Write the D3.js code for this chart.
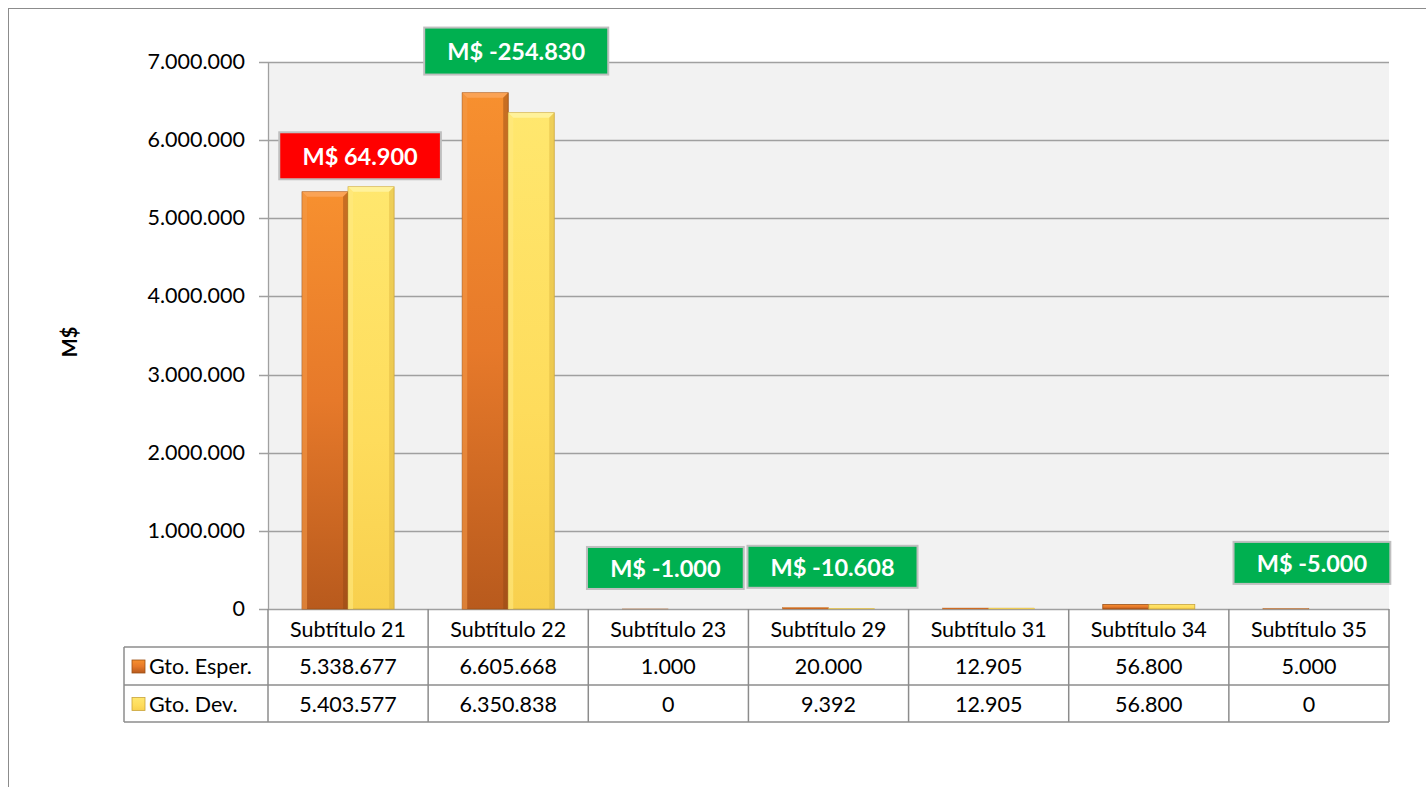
<!DOCTYPE html>
<html><head><meta charset="utf-8">
<script src="https://cdn.jsdelivr.net/npm/d3@7"></script>
<style>body{margin:0;background:#fff}svg{display:block}text{font-family:Lato,"Open Sans",sans-serif}</style>
</head><body>
<svg id="c" width="1426" height="787"></svg>
<script>
const categories = ["Subtítulo 21","Subtítulo 22","Subtítulo 23","Subtítulo 29","Subtítulo 31","Subtítulo 34","Subtítulo 35"];
const esperado = [5338677, 6605668, 1000, 20000, 12905, 56800, 5000];
const devengado = [5403577, 6350838, 0, 9392, 12905, 56800, 0];
const seriesNames = ["Gto. Esper.", "Gto. Dev."];
const yTicks = [0,1000000,2000000,3000000,4000000,5000000,6000000,7000000];
const labelCats = ["Subtítulo 21","Subtítulo 22","Subtítulo 23","Subtítulo 29","Subtítulo 35"];
const labelTexts = ["M$ 64.900","M$ -254.830","M$ -1.000","M$ -10.608","M$ -5.000"];
const labelValues = [5800000, 7140000, 525000, 540000, 590000];
const labelColors = ["#ff0000","#00b050","#00b050","#00b050","#00b050"];

const svg = d3.select("#c");
const fmt = v => d3.format(",")(v).replace(/,/g,".");
const L=268, R=1389, T=62, B=609;
const FS = 21.5;
const labelDx = [12, 8, -3, 4, 3]; // layout nudges of annotation boxes
const x = d3.scaleBand().domain(categories).range([L,R]);
const y = d3.scaleLinear().domain([0,7000000]).range([B,T]);
const xs = d3.scaleBand().domain([0,1]).range([0, 92]);

const defs = svg.append("defs");
function grad(id, stops){
  const g = defs.append("linearGradient").attr("id",id).attr("x1",0).attr("y1",0).attr("x2",0).attr("y2",1);
  stops.forEach(s=>g.append("stop").attr("offset",s[0]).attr("stop-color",s[1]));
}
grad("gO",[[0,"#f7902f"],[0.5,"#e6792a"],[1,"#b85a1d"]]);
grad("gY",[[0,"#ffe76e"],[0.6,"#fedc5c"],[1,"#f8d04e"]]);
const fills = ["url(#gO)","url(#gY)"];
const strokes = ["#9c5016","#c9a43a"];

svg.append("rect").attr("x",8.5).attr("y",8.5).attr("width",1440).attr("height",800)
  .attr("fill","none").attr("stroke","#8c8c8c").attr("stroke-width",1);

svg.append("rect").attr("x",L).attr("y",T).attr("width",R-L).attr("height",B-T).attr("fill","#f2f2f2");

svg.append("g").selectAll("line").data(yTicks).join("line")
  .attr("x1",L-9).attr("x2",R).attr("y1",d=>Math.round(y(d))+0.5).attr("y2",d=>Math.round(y(d))+0.5)
  .attr("stroke","#a0a0a0").attr("stroke-width",1.3);
svg.append("line").attr("x1",L+0.5).attr("x2",L+0.5).attr("y1",T).attr("y2",B).attr("stroke","#a0a0a0").attr("stroke-width",1.3);

svg.append("g").selectAll("text").data(yTicks).join("text")
  .attr("x",245).attr("y",d=>y(d)+7).attr("text-anchor","end")
  .attr("font-size",FS).attr("fill","#000").text(d=>fmt(d));

svg.append("text").attr("transform","translate(77,342) rotate(-90)").attr("text-anchor","middle")
  .attr("font-size",20).attr("font-weight","bold").text("M$");

const series = [esperado, devengado];
series.forEach((vals,si)=>{
  const g = svg.append("g");
  vals.forEach((v,i)=>{
    if(v<=0) return;
    const bx = x(categories[i]) + (x.bandwidth()-92)/2 + xs(si);
    const bw = xs.bandwidth();
    const by = y(v), bh = B - by;
    g.append("rect").attr("x",bx).attr("y",by).attr("width",bw).attr("height",bh)
      .attr("fill",fills[si]).attr("stroke",strokes[si]).attr("stroke-width",bh>3?0.8:0.3);
    if(bh>12){
      const b = 5;
      g.append("path").attr("d",`M${bx},${by}L${bx+bw},${by}L${bx+bw-b},${by+b}L${bx+b},${by+b}Z`)
        .attr("fill",si==0?"#fba55a":"#fff3a0").attr("opacity",0.9);
      g.append("path").attr("d",`M${bx},${by}L${bx+b},${by+b}L${bx+b},${B}L${bx},${B}Z`)
        .attr("fill",si==0?"#f49a48":"#ffea80").attr("opacity",0.6);
      g.append("path").attr("d",`M${bx+bw},${by}L${bx+bw-b},${by+b}L${bx+bw-b},${B}L${bx+bw},${B}Z`)
        .attr("fill",si==0?"#8f4714":"#d9b23e").attr("opacity",0.45);
    }
  });
});

const rowY = [609, 647, 685, 722];
const tg = svg.append("g").attr("stroke","#8c8c8c").attr("stroke-width",1.5).attr("fill","none");
tg.append("line").attr("x1",124).attr("x2",R).attr("y1",rowY[1]).attr("y2",rowY[1]);
tg.append("line").attr("x1",124).attr("x2",R).attr("y1",rowY[2]).attr("y2",rowY[2]);
tg.append("line").attr("x1",124).attr("x2",R).attr("y1",rowY[3]).attr("y2",rowY[3]);
const vx = categories.map(c=>x(c)).concat([R]);
vx.forEach(v=>tg.append("line").attr("x1",v).attr("x2",v).attr("y1",B).attr("y2",rowY[3]));
tg.append("line").attr("x1",124).attr("x2",124).attr("y1",rowY[1]).attr("y2",rowY[3]);

svg.append("g").selectAll("text").data(categories).join("text")
  .attr("x",d=>x(d)+x.bandwidth()/2).attr("y",637).attr("text-anchor","middle")
  .attr("font-size",FS).text(d=>d);
series.forEach((vals,si)=>{
  svg.append("g").selectAll("text").data(vals).join("text")
    .attr("x",(d,i)=>x(categories[i])+x.bandwidth()/2).attr("y",(rowY[si+1]+rowY[si+2])/2+8)
    .attr("text-anchor","middle").attr("font-size",FS).text(d=>fmt(d));
  const cy=(rowY[si+1]+rowY[si+2])/2;
  svg.append("rect").attr("x",132).attr("y",cy-6).attr("width",13).attr("height",13)
    .attr("fill",fills[si]).attr("stroke",strokes[si]).attr("stroke-width",0.8);
  svg.append("text").attr("x",149).attr("y",cy+8).attr("font-size",FS).text(seriesNames[si]);
});

labelCats.forEach((c,i)=>{
  const cx = x(c)+x.bandwidth()/2 + labelDx[i], cy = y(labelValues[i]);
  const g = svg.append("g");
  const t = g.append("text").attr("x",cx).attr("y",cy+9).attr("text-anchor","middle")
    .attr("font-size",23.5).attr("font-weight","bold").attr("fill","#fff").text(labelTexts[i]);
  const bb = t.node().getBBox();
  const w = bb.width+46, h = i<2?47:42;
  g.insert("rect","text").attr("x",cx-w/2).attr("y",cy-h/2).attr("width",w).attr("height",h)
    .attr("fill",labelColors[i]).attr("stroke","#bfbfbf").attr("stroke-width",2);
});
</script>
</body></html>
